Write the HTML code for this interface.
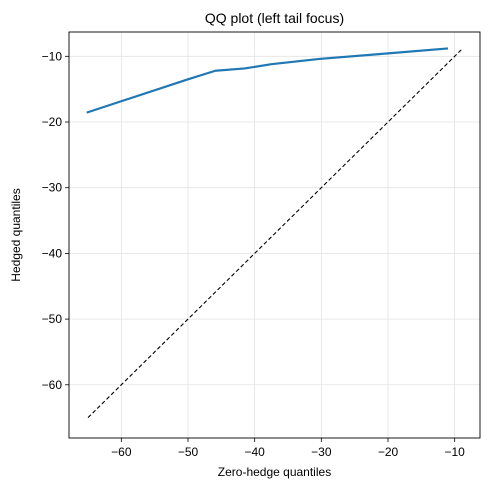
<!DOCTYPE html>
<html><head><meta charset="utf-8"><style>
body{margin:0;background:#fff;font-family:"Liberation Sans","DejaVu Sans",sans-serif}
</style></head><body>
<svg id="c" width="490" height="490" xmlns="http://www.w3.org/2000/svg"></svg>
<script>
const xs=[-65.2,-50,-45.9,-41.5,-37.5,-30.3,-20,-11];
const ys=[-18.57,-13.5,-12.2,-11.85,-11.2,-10.4,-9.55,-8.8];
const refLine=[-65,-9];
const xTicks=[-60,-50,-40,-30,-20,-10];
const yTicks=[-60,-50,-40,-30,-20,-10];
const L=69,R=480,T=32,B=438;
const xMin=-67.85,xMax=-6.2,yMin=-68.1,yMax=-6.3;
const sx=v=>L+(v-xMin)/(xMax-xMin)*(R-L);
const sy=v=>B-(v-yMin)/(yMax-yMin)*(B-T);
const svg=document.getElementById('c');const NS='http://www.w3.org/2000/svg';
function mk(t,a,txt){const e=document.createElementNS(NS,t);for(const k in a)e.setAttribute(k,a[k]);if(txt!==undefined)e.textContent=txt;svg.appendChild(e);return e;}
xTicks.forEach(v=>{
const g=mk('line',{x1:sx(v),x2:sx(v),y1:T,y2:B,stroke:'#e3e3e3','stroke-width':0.8});


const t=mk('line',{x1:sx(v),x2:sx(v),y1:B,y2:B+4,stroke:'#000','stroke-width':0.8});


const l=mk('text',{x:sx(v),y:B+18,'text-anchor':'middle','font-size':12},'\u2212'+Math.abs(v));


});
yTicks.forEach(v=>{
const g=mk('line',{x1:L,x2:R,y1:sy(v),y2:sy(v),stroke:'#e3e3e3','stroke-width':0.8});


const t=mk('line',{x1:L-4,x2:L,y1:sy(v),y2:sy(v),stroke:'#000','stroke-width':0.8});


const l=mk('text',{x:L-7,y:sy(v)+4,'text-anchor':'end','font-size':12},'\u2212'+Math.abs(v));


});
const d=mk('line',{x1:sx(refLine[0]),y1:sy(refLine[0]),x2:sx(refLine[1]),y2:sy(refLine[1]),stroke:'#000','stroke-width':1.1,'stroke-dasharray':'4,2.5'});


const p=mk('polyline',{points:xs.map((x,i)=>sx(x)+','+sy(ys[i])).join(' '),fill:'none',stroke:'#1f77b4','stroke-width':2.2,'stroke-linejoin':'round'});


const f=mk('rect',{x:L,y:T,width:R-L,height:B-T,fill:'none',stroke:'#000','stroke-width':0.9});


const ti=mk('text',{x:(L+R)/2,y:T-9,'text-anchor':'middle','font-size':14},'QQ plot (left tail focus)');


const xl=mk('text',{x:(L+R)/2,y:476,'text-anchor':'middle','font-size':12},'Zero-hedge quantiles');


const yl=mk('text',{x:20,y:(T+B)/2,'text-anchor':'middle','font-size':12,transform:'rotate(-90 20 '+((T+B)/2)+')'},'Hedged quantiles');


</script>
</body></html>
